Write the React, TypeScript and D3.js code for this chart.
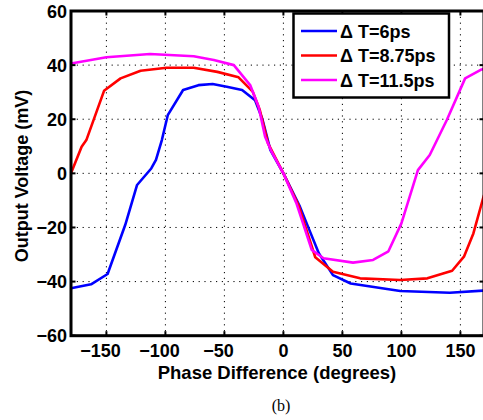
import * as d3 from "d3"

// phase difference (deg) and output voltage (mV)
const blueX = [-180, -163, -149, -134, -124, -112, -108, -103, -98, -85, -72, -60, -48, -35, -24, -18, -11, 0, 14, 23, 30, 42, 57, 99, 141, 170]
const blueY = [-42.5, -41, -37.2, -19, -4.3, 1.8, 5, 12.3, 21.5, 30.8, 32.6, 33, 32, 30.8, 27, 20.3, 8.6, 0, -12.3, -22, -29.5, -37.6, -40.7, -43.5, -44.1, -43.3]

const redX = [-180, -171, -167, -152, -138, -121, -99, -76, -56, -38, -26, -20, -13, 0, 13, 27, 42, 65, 99, 122, 143, 153, 161, 170]
const redY = [0, 9.8, 12.3, 30.5, 35.1, 37.9, 39, 39, 37.5, 35.5, 30.2, 23.4, 11.1, 0, -12, -31, -36.4, -38.8, -39.4, -38.8, -36, -30.8, -22.2, -8]

const magX = [-180, -150, -113, -76, -59, -42, -28, -21, -15.5, -10, 0, 11, 24, 34, 59, 76, 89, 100, 114, 124, 138.5, 154, 168, 170]
const magY = [40.6, 42.9, 44.1, 43.3, 41.9, 40, 32.5, 24.6, 13.5, 8, 0, -11, -28.3, -31.4, -33, -32, -28.8, -18.5, 1.2, 6.8, 19.7, 35.1, 38.4, 38.6]

const seriesNames = ["\u0394 T=6ps", "\u0394 T=8.75ps", "\u0394 T=11.5ps"]
const xTicks = [-150, -100, -50, 0, 50, 100, 150]
const yTicks = [-60, -40, -20, 0, 20, 40, 60]

export default function App() {
  const width = 483
  const height = 420
  const left = 71, right = 484, top = 11, bottom = 335.7

  const x = d3.scaleLinear().domain([-180, 170]).range([left, right])
  const y = d3.scaleLinear().domain([-60, 60]).range([bottom, top])

  const line = d3.line<[number, number]>().x(d => x(d[0])).y(d => y(d[1]))
  const series = [
    { xs: blueX, ys: blueY, color: "#0000ff" },
    { xs: redX, ys: redY, color: "#ff0000" },
    { xs: magX, ys: magY, color: "#ff00ff" },
  ]

  const font = "'Liberation Sans', Arial, Helvetica, sans-serif"
  const tickLen = 4.5

  return (
    <svg width={width} height={height} style={{ position: "absolute", left: 0, top: 0, background: "#fff" }}>
      <rect x={0} y={0} width={width} height={height} fill="#fff" />
      {/* grid */}
      <g stroke="#000" strokeWidth={1} strokeDasharray="1.2,4.6">
        {xTicks.map(t => <line key={"gx" + t} x1={x(t)} x2={x(t)} y1={top} y2={bottom} />)}
        {yTicks.slice(1, -1).map(t => <line key={"gy" + t} x1={left} x2={right} y1={y(t)} y2={y(t)} />)}
      </g>
      {/* curves */}
      {series.map((s, i) => (
        <path key={i} d={line(s.xs.map((v, j) => [v, s.ys[j]] as [number, number])) || ""}
          fill="none" stroke={s.color} strokeWidth={2.6} strokeLinejoin="round" />
      ))}
      {/* box and ticks */}
      <rect x={left} y={top} width={right - left} height={bottom - top} fill="none" stroke="#000" strokeWidth={3} />
      <g stroke="#000" strokeWidth={2}>
        {xTicks.map(t => (
          <g key={"tx" + t}>
            <line x1={x(t)} x2={x(t)} y1={bottom} y2={bottom - tickLen} />
            <line x1={x(t)} x2={x(t)} y1={top} y2={top + tickLen} />
          </g>
        ))}
        {yTicks.map(t => (
          <g key={"ty" + t}>
            <line x1={left} x2={left + tickLen} y1={y(t)} y2={y(t)} />
            <line x1={right} x2={right - tickLen} y1={y(t)} y2={y(t)} />
          </g>
        ))}
      </g>
      {/* tick labels */}
      <g fontFamily={font} fontWeight="bold" fontSize={18} fill="#000">
        {xTicks.map(t => (
          <text key={"lx" + t} x={x(t) - (t < 0 ? 6 : 0)} y={357} textAnchor="middle">
            {t < 0 ? "\u2212" + Math.abs(t) : String(t)}
          </text>
        ))}
        {yTicks.map(t => (
          <text key={"ly" + t} x={67} y={y(t) + 6.5} textAnchor="end">
            {t < 0 ? "\u2212" + Math.abs(t) : String(t)}
          </text>
        ))}
        <text x={277} y={378.5} textAnchor="middle" fontSize={18.5}>Phase Difference (degrees)</text>
        <text transform={`translate(28,176) rotate(-90)`} textAnchor="middle">Output Voltage (mV)</text>
      </g>
      {/* legend */}
      <rect x={293.5} y={13.5} width={155.5} height={84} fill="#fff" stroke="#000" strokeWidth={2.5} />
      {series.map((s, i) => (
        <g key={"lg" + i}>
          <line x1={301} x2={337} y1={31 + i * 24.5} y2={31 + i * 24.5} stroke={s.color} strokeWidth={2.6} />
          <text x={340} y={37.5 + i * 24.5} fontFamily={font} fontWeight="bold" fontSize={18}>{seriesNames[i]}</text>
        </g>
      ))}
      <text x={281} y={411} textAnchor="middle" fontFamily="'Liberation Serif', 'Times New Roman', serif" fontSize={16}>(b)</text>
    </svg>
  )
}
